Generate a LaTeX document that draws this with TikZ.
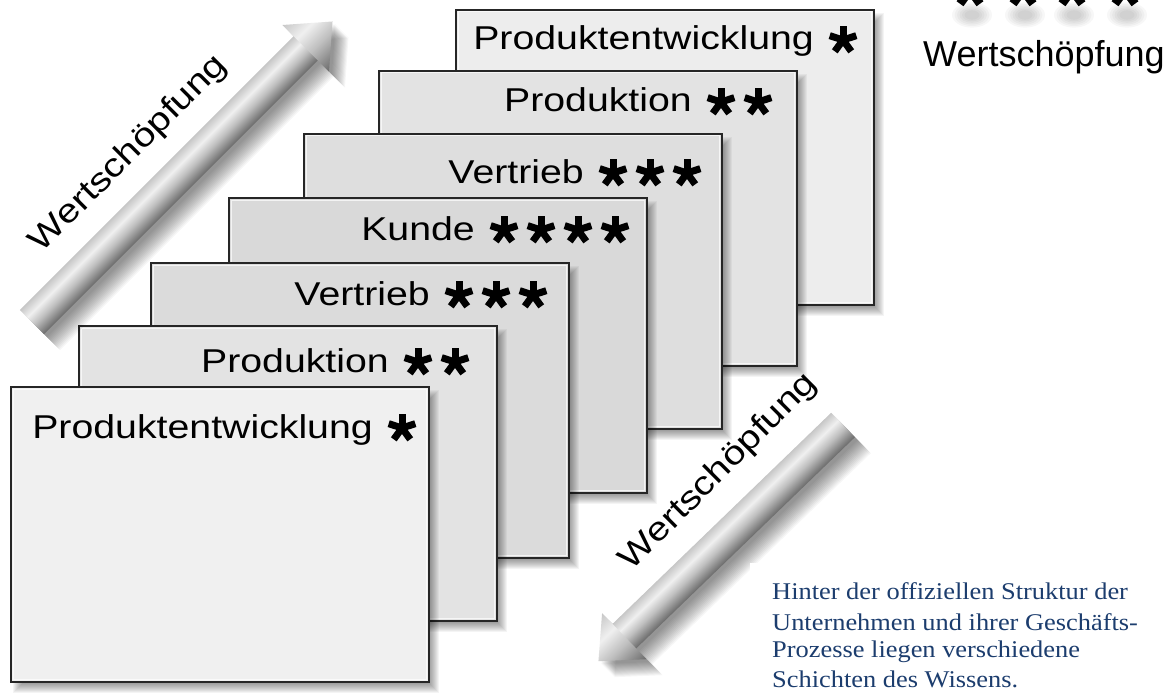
\documentclass[tikz,border=0pt]{standalone}
\usepackage{fontspec}
\setmainfont{Liberation Sans}
\newfontfamily\cardfont[FakeStretch=1.19]{Liberation Sans}
\newfontfamily\notefont[FakeStretch=1.1]{Liberation Serif}
\definecolor{notecol}{HTML}{1C3D6E}
\definecolor{cardline}{HTML}{262626}
\pgfdeclareverticalshading{arrowsh}{100bp}{color(0bp)=(black!88); color(18bp)=(black!70); color(45bp)=(black!25); color(60bp)=(black!6); color(78bp)=(black!25); color(100bp)=(black!45)}
\tikzset{
  cardbox/.style={draw=cardline, line width=1.8pt, inner sep=0pt, minimum width=418pt, minimum height=295pt, anchor=north west},
  cardlabel/.style={font=\cardfont\fontsize{33}{40}\selectfont, inner sep=0pt, anchor=base east},
  difftext/.style={font=\cardfont\fontsize{33}{40}\selectfont, inner sep=0pt},
  noteline/.style={font=\notefont\fontsize{24}{29}\selectfont, text=notecol, inner sep=0pt, anchor=base west}
}
\newcommand\starat[3]{%
  \begin{scope}[shift={(#1,#2)}]
    \foreach \a in {-90,-18,54,126,198}{\draw[line width={0.5*#3}, line cap=butt] (0,0) -- (\a:#3);}
    \fill (0,0) circle ({0.35*#3});
  \end{scope}}
% #1 name, #2 L, #3 T, #4 fill, #5 text, #6 nstars, #7 star right end, #8 baseline
\newcommand\card[8]{%
  \pgfmathsetmacro\cardR{#2+418}\pgfmathsetmacro\cardB{#3+295}
  \foreach \k in {0,...,9}{
    \fill[black,opacity=0.045] ({#2+7-\k+5},{#3+8-\k+5}) rectangle ({\cardR+7+\k-5},{\cardB+8+\k-5});
  }
  \node[cardbox, fill=#4] (#1) at (#2,#3) {};
  \draw[white, opacity=.7, line width=1pt] ([xshift=3pt,yshift=-3pt]#1.north west) rectangle ([xshift=-3pt,yshift=3pt]#1.south east);
  \foreach \i in {1,...,#6}{\pgfmathsetmacro\cx{#7-15-37*(\i-1)}\starat{\cx}{#8-10}{14}}
  \pgfmathsetmacro\tx{#7-15-37*(#6-1)-15-14}
  \node[cardlabel] (#1t) at (\tx,#8) {#5};
}
\begin{document}
\begin{tikzpicture}[x=1pt,y=-1pt]
\useasboundingbox (0,0) rectangle (1174,695);
\clip (0,0) rectangle (1174,695);
\fill[white] (0,0) rectangle (1174,695);

% top-right stars (cut off) with soft shadows
\foreach \sx in {970,1023,1072,1125}{
  \foreach \k in {1,...,6}{\fill[black,opacity=0.03] (\sx+2,15) ellipse ({5+2.5*\k} and {3+1.6*\k});}
  \starat{\sx}{-10}{17}
}
\node[anchor=base west, inner sep=0pt, font=\fontsize{36}{40}\selectfont] (topword) at (923,67) {Wertschöpfung};

% cards, back to front
\card{c7}{455}{9}{black!7!white}{Produktentwicklung}{1}{858}{50}
\card{c6}{378}{70}{black!11!white}{Produktion}{2}{773}{112}
\card{c5}{303}{133}{black!13!white}{Vertrieb}{3}{702}{183}
\card{c4}{228}{197}{black!15!white}{Kunde}{4}{630}{240}
\card{c3}{150}{262}{black!14!white}{Vertrieb}{3}{548}{305}
\card{c2}{78}{325}{black!11!white}{Produktion}{2}{470}{372}
\card{c1}{10}{386}{black!6!white}{Produktentwicklung}{1}{417}{438}

% upper-left arrow
\foreach \d in {3,...,16}{
  \begin{scope}[transform canvas={shift={(32+\d,322+\d)},rotate=45}]
    \fill[black,opacity=0.035] (0,-17) -- (387,-17) -- (387,-33) -- (425,0) -- (387,33) -- (387,17) -- (0,17) -- cycle;
  \end{scope}}
\begin{scope}[transform canvas={shift={(32,322)},rotate=45}]
  \shade[shading=arrowsh] (0,-17) rectangle (389,17);
  \shade[shading=arrowsh] (387,-33) -- (425,0) -- (387,33) -- cycle;
\end{scope}
\node[difftext, rotate=45] (wsul) at (129,154) {Wertschöpfung};

% lower-right arrow
\foreach \d in {3,...,16}{
  \begin{scope}[transform canvas={shift={(843+\d,425+\d)},rotate=224}]
    \fill[black,opacity=0.035] (0,-17) -- (304,-17) -- (304,-32) -- (340,0) -- (304,32) -- (304,17) -- (0,17) -- cycle;
  \end{scope}}
\begin{scope}[transform canvas={shift={(843,425)},rotate=224}]
  \shade[shading=arrowsh, shading angle=180] (0,-17) rectangle (306,17);
  \shade[shading=arrowsh, shading angle=180] (304,-32) -- (340,0) -- (304,32) -- cycle;
\end{scope}
\node[difftext, rotate=45] (wslr) at (719,472) {Wertschöpfung};

% note
\fill[white] (750,563) rectangle (1174,695);
\node[noteline] (n1) at (772,599) {Hinter der offiziellen Struktur der};
\node[noteline] (n2) at (772,630) {Unternehmen und ihrer Geschäfts-};
\node[noteline] (n3) at (772,657) {Prozesse liegen verschiedene};
\node[noteline] (n4) at (772,687) {Schichten des Wissens.};
\end{tikzpicture}
\end{document}
